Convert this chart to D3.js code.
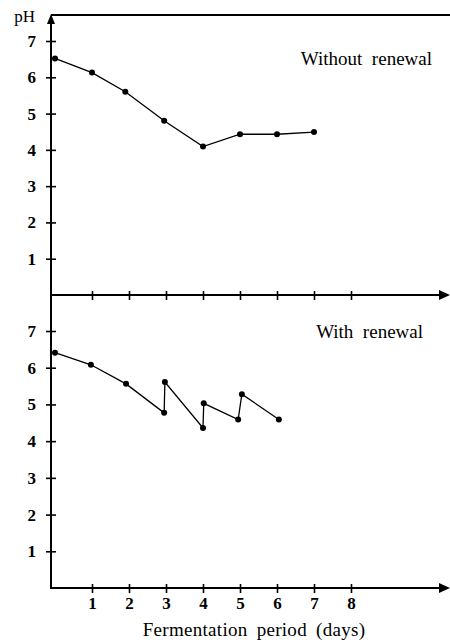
<!DOCTYPE html>
<html><head><meta charset="utf-8">
<script src="https://cdn.jsdelivr.net/npm/d3@7"></script>
<style>
body{margin:0;background:#fff;}
text{font-family:"Liberation Serif","Times New Roman",serif;fill:#000;}
</style></head>
<body><svg id="c" width="450" height="642"></svg>
<script>
// Data
const topDays = [0, 1, 1.9, 2.95, 4.0, 5.0, 6.0, 7.0];
const topPH   = [6.52, 6.13, 5.6, 4.8, 4.09, 4.43, 4.43, 4.49];
const botDays = [0, 0.97, 1.92, 2.95, 2.97, 4.0, 4.02, 4.95, 5.05, 6.05];
const botPH   = [6.41, 6.08, 5.56, 4.77, 5.61, 4.36, 5.03, 4.59, 5.28, 4.59];
const yTicks = [1, 2, 3, 4, 5, 6, 7];
const xTicks = [1, 2, 3, 4, 5, 6, 7, 8];
const topLabel = "Without  renewal";
const botLabel = "With  renewal";
const xTitle = "Fermentation period (days)";
const yTitle = "pH";

const svg = d3.select("#c");
const axX = 51;
const x = d3.scaleLinear().domain([0, 8]).range([55, 351]);
const yTop = d3.scaleLinear().domain([0, 7]).range([295, 41]);
const yBot = d3.scaleLinear().domain([0, 7]).range([588, 331]);

svg.append("line").attr("x1", axX).attr("x2", 450).attr("y1", 15).attr("y2", 15)
  .attr("stroke", "#000").attr("stroke-width", 1.8);
svg.append("line").attr("x1", axX).attr("x2", axX).attr("y1", 20).attr("y2", 589)
  .attr("stroke", "#000").attr("stroke-width", 2);
svg.append("path").attr("d", `M${axX-4},24 L${axX},14 L${axX+4},24 Z`).attr("fill", "#000");
svg.append("text").attr("x", 35).attr("y", 22).attr("text-anchor", "end")
  .attr("font-size", 17).text(yTitle);

function panel(y, y0, days, ph, label, labelX, labelY, showXLabels) {
  const ay = svg.append("g").attr("transform", `translate(${axX},0)`)
    .call(d3.axisLeft(y).tickValues(yTicks).tickSize(5).tickFormat(d3.format("d")));
  ay.select(".domain").remove();
  ay.selectAll(".tick line").attr("x1", -5).attr("x2", 5).attr("stroke-width", 1.6);
  ay.selectAll(".tick text").attr("x", -15).attr("font-size", 17).attr("font-weight", "bold")
    .style("font-family", "'Liberation Serif',serif");
  const ax = svg.append("g").attr("transform", `translate(0,${y0})`)
    .call(d3.axisBottom(x).tickValues(xTicks).tickSize(5).tickFormat(showXLabels ? d3.format("d") : ""));
  ax.select(".domain").remove();
  ax.selectAll(".tick line").attr("y1", -4).attr("y2", 5).attr("stroke-width", 1.6);
  ax.selectAll(".tick text").attr("y", 9).attr("font-size", 17).attr("font-weight", "bold")
    .style("font-family", "'Liberation Serif',serif");
  svg.append("line").attr("x1", axX).attr("x2", 442).attr("y1", y0).attr("y2", y0)
    .attr("stroke", "#000").attr("stroke-width", 2);
  svg.append("path").attr("d", `M439,${y0-5} L450,${y0} L439,${y0+5} Z`).attr("fill", "#000");
  const pts = days.map((d, i) => [d, ph[i]]);
  svg.append("path").datum(pts)
    .attr("d", d3.line().x(d => x(d[0])).y(d => y(d[1])))
    .attr("fill", "none").attr("stroke", "#000").attr("stroke-width", 1.3);
  svg.append("g").selectAll("circle").data(pts).join("circle")
    .attr("cx", d => x(d[0])).attr("cy", d => y(d[1])).attr("r", 3).attr("fill", "#000");
  svg.append("text").attr("x", labelX).attr("y", labelY).attr("text-anchor", "end")
    .attr("font-size", 19).style("white-space", "pre").text(label);
}

panel(yTop, 295, topDays, topPH, topLabel, 432, 65, false);
panel(yBot, 588, botDays, botPH, botLabel, 423, 338, true);

svg.append("text").attr("x", 254).attr("y", 636).attr("text-anchor", "middle")
  .attr("font-size", 19).attr("word-spacing", 4).attr("letter-spacing", 0.3).text(xTitle);
</script></body></html>
